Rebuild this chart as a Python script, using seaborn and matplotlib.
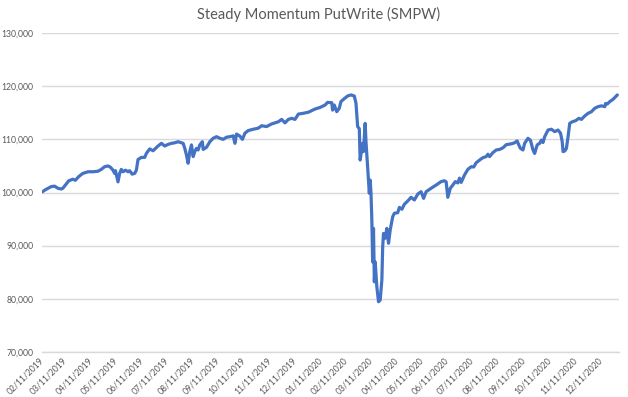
import pandas as pd
import numpy as np
import matplotlib
matplotlib.use("Agg")
import matplotlib.pyplot as plt
import matplotlib.dates as mdates
from matplotlib.ticker import FuncFormatter
import seaborn as sns

# --- data ---
dates = [
    "2019-02-11", "2019-02-16", "2019-02-22", "2019-02-26", "2019-03-02", "2019-03-06",
    "2019-03-08", "2019-03-11", "2019-03-15", "2019-03-20", "2019-03-23", "2019-03-27",
    "2019-04-01", "2019-04-07", "2019-04-13", "2019-04-19", "2019-04-23", "2019-04-27",
    "2019-05-01", "2019-05-04", "2019-05-07", "2019-05-09", "2019-05-10", "2019-05-13",
    "2019-05-15", "2019-05-17", "2019-05-19", "2019-05-22", "2019-05-25", "2019-05-27",
    "2019-05-30", "2019-06-02", "2019-06-04", "2019-06-06", "2019-06-10", "2019-06-14",
    "2019-06-16", "2019-06-20", "2019-06-24", "2019-06-27", "2019-06-30", "2019-07-04",
    "2019-07-08", "2019-07-12", "2019-07-16", "2019-07-20", "2019-07-24", "2019-07-26",
    "2019-07-30", "2019-08-01", "2019-08-03", "2019-08-05", "2019-08-07", "2019-08-09",
    "2019-08-11", "2019-08-13", "2019-08-15", "2019-08-17", "2019-08-19", "2019-08-22",
    "2019-08-23", "2019-08-27", "2019-08-31", "2019-09-04", "2019-09-08", "2019-09-12",
    "2019-09-16", "2019-09-20", "2019-09-24", "2019-09-28", "2019-09-30", "2019-10-02",
    "2019-10-06", "2019-10-09", "2019-10-12", "2019-10-16", "2019-10-22", "2019-10-28",
    "2019-11-01", "2019-11-07", "2019-11-13", "2019-11-17", "2019-11-21", "2019-11-25",
    "2019-11-29", "2019-12-03", "2019-12-07", "2019-12-11", "2019-12-15", "2019-12-21",
    "2019-12-27", "2019-12-31", "2020-01-04", "2020-01-10", "2020-01-16", "2020-01-19",
    "2020-01-24", "2020-01-25", "2020-01-27", "2020-01-30", "2020-02-02", "2020-02-04",
    "2020-02-08", "2020-02-12", "2020-02-16", "2020-02-20", "2020-02-22", "2020-02-24",
    "2020-02-26", "2020-02-27", "2020-03-01", "2020-03-02", "2020-03-04", "2020-03-05",
    "2020-03-07", "2020-03-09", "2020-03-10", "2020-03-11", "2020-03-12", "2020-03-13",
    "2020-03-14", "2020-03-15", "2020-03-16", "2020-03-18", "2020-03-20", "2020-03-22",
    "2020-03-24", "2020-03-25", "2020-03-26", "2020-03-28", "2020-03-30", "2020-04-01",
    "2020-04-03", "2020-04-06", "2020-04-08", "2020-04-12", "2020-04-14", "2020-04-17",
    "2020-04-20", "2020-04-24", "2020-04-28", "2020-05-02", "2020-05-06", "2020-05-10",
    "2020-05-13", "2020-05-16", "2020-05-22", "2020-05-28", "2020-06-03", "2020-06-07",
    "2020-06-09", "2020-06-11", "2020-06-14", "2020-06-17", "2020-06-20", "2020-06-23",
    "2020-06-25", "2020-06-27", "2020-07-01", "2020-07-05", "2020-07-09", "2020-07-12",
    "2020-07-15", "2020-07-19", "2020-07-23", "2020-07-27", "2020-07-29", "2020-07-31",
    "2020-08-04", "2020-08-08", "2020-08-12", "2020-08-16", "2020-08-20", "2020-08-26",
    "2020-08-30", "2020-09-02", "2020-09-04", "2020-09-06", "2020-09-09", "2020-09-11",
    "2020-09-15", "2020-09-18", "2020-09-21", "2020-09-23", "2020-09-26", "2020-09-29",
    "2020-10-01", "2020-10-03", "2020-10-05", "2020-10-09", "2020-10-13", "2020-10-17",
    "2020-10-21", "2020-10-24", "2020-10-26", "2020-10-27", "2020-10-29", "2020-10-31",
    "2020-11-02", "2020-11-04", "2020-11-07", "2020-11-11", "2020-11-15", "2020-11-18",
    "2020-11-22", "2020-11-26", "2020-11-30", "2020-12-04", "2020-12-08", "2020-12-12",
    "2020-12-16", "2020-12-17", "2020-12-19", "2020-12-22", "2020-12-26", "2020-12-31",
]

values = [
    100100, 100600, 101100, 101200, 100800, 100650,
    100800, 101400, 102200, 102500, 102300, 103000,
    103600, 103900, 103900, 104000, 104350, 104850,
    105000, 104750, 104200, 103600, 104100, 102000,
    103600, 104350, 103900, 104200, 103900, 104100,
    103450, 103600, 104200, 106200, 106600, 106600,
    107350, 108200, 107850, 108300, 108750, 109250,
    108750, 109050, 109250, 109350, 109550, 109450,
    109250, 108300, 107050, 105500, 107700, 108950,
    106750, 107700, 108300, 108000, 108950, 109550,
    108100, 108500, 109550, 110200, 110500, 110200,
    110000, 110400, 110500, 110650, 109250, 111000,
    110600, 110000, 111150, 111650, 111900, 112100,
    112550, 112400, 112900, 113100, 113300, 113750,
    113100, 113750, 113950, 113750, 114750, 114900,
    115100, 115400, 115700, 116000, 116450, 116950,
    116900, 115500, 116450, 115200, 115850, 117100,
    117650, 118150, 118350, 118150, 116800, 112400,
    112000, 106100, 109250, 107700, 113000, 109550,
    104850, 99850, 102350, 99850, 94850, 86950,
    93250, 83200, 86950, 82250, 79450, 79750,
    83550, 89800, 92300, 91400, 93250, 90450,
    92950, 95450, 96100, 96200, 97200, 96850,
    97800, 98400, 99100, 98600, 99700, 100150,
    98900, 100150, 100800, 101400, 102050, 102200,
    102000, 99100, 100800, 101400, 102050, 101800,
    102700, 101900, 103300, 104350, 104850, 104800,
    105600, 106100, 106550, 106750, 107200, 106750,
    107500, 108000, 108100, 108400, 109000, 109150,
    109350, 109700, 108950, 108300, 108000, 109250,
    110200, 109800, 108000, 107350, 108950, 109250,
    109850, 109400, 110500, 111750, 111900, 111450,
    111750, 111150, 109550, 107700, 107800, 108300,
    110500, 113000, 113300, 113500, 113950, 113750,
    114400, 114900, 115200, 115850, 116150, 116300,
    116150, 116750, 116650, 117100, 117550, 118350,
]

df = pd.DataFrame({"Date": pd.to_datetime(dates), "Value": values})

title = "Steady Momentum PutWrite (SMPW)"
y_ticks = [70000, 80000, 90000, 100000, 110000, 120000, 130000]
# ticks on the 11th of each month, 02/11/2019 .. 12/11/2020
tick_dates = pd.date_range("2019-02-01", "2020-12-01", freq="MS") + pd.Timedelta(days=10)

# --- style ---
sns.set_style("white")
plt.rcParams["font.family"] = ["Lato", "DejaVu Sans"]

text_grey = "#595959"
grid_grey = "#d9d9d9"
line_blue = "#4472C4"

fig = plt.figure(figsize=(6.28, 3.97), dpi=100)
ax = fig.add_axes([42 / 628, 1 - 352 / 397, (619 - 42) / 628, (352 - 33) / 397])

sns.lineplot(data=df, x="Date", y="Value", ax=ax, color=line_blue, linewidth=2.3)

ax.set_ylim(70000, 130000)
ax.set_yticks(y_ticks)
ax.yaxis.set_major_formatter(FuncFormatter(lambda v, p: f"{int(v):,}"))
ax.set_xlim(pd.Timestamp("2019-02-11"), pd.Timestamp("2021-01-02"))
ax.set_xticks(tick_dates)
ax.xaxis.set_major_formatter(mdates.DateFormatter("%m/%d/%Y"))

ax.grid(axis="y", color=grid_grey, linewidth=1)
ax.grid(axis="x", visible=False)
for side in ["top", "right", "left"]:
    ax.spines[side].set_visible(False)
ax.spines["bottom"].set_color(grid_grey)
ax.spines["bottom"].set_linewidth(1)

ax.tick_params(axis="y", length=0, pad=6, labelsize=6.2, labelcolor=text_grey)
ax.tick_params(axis="x", length=4, width=1, color=grid_grey, pad=1,
               labelsize=6.2, labelcolor=text_grey)
for lbl in ax.get_xticklabels():
    lbl.set_rotation(45)
    lbl.set_ha("right")
    lbl.set_va("center")
    lbl.set_rotation_mode("anchor")

ax.set_xlabel("")
ax.set_ylabel("")
fig.text(0.507, 1 - 14 / 397, title, ha="center", va="center",
         fontsize=10.5, color=text_grey)

plt.savefig("out.png", dpi=100)
